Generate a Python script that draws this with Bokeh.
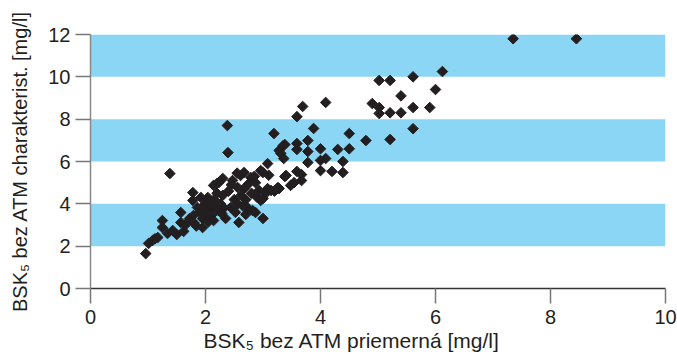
import numpy as np
from bokeh.plotting import figure
from bokeh.models import BoxAnnotation, Range1d, FixedTicker
from bokeh.embed import file_html
from bokeh.resources import INLINE

# BSK5 bez ATM priemerná [mg/l]
x_vals = [0.96, 1.01, 1.08, 1.12, 1.17, 1.25, 1.25, 1.34, 1.43, 1.38, 1.50, 1.57, 1.57, 1.62, 1.65,
          1.72, 1.78, 1.78, 1.79, 1.80, 1.84, 1.86, 1.90, 1.92, 1.95, 1.95, 1.98, 2.00, 2.02, 2.04,
          2.05, 2.05, 2.10, 2.10, 2.14, 2.14, 2.15, 2.20, 2.20, 2.23, 2.26, 2.28, 2.30, 2.32, 2.35,
          2.38, 2.39, 2.40, 2.44, 2.47, 2.50, 2.52, 2.56, 2.56, 2.58, 2.61, 2.62, 2.67, 2.67, 2.70,
          2.73, 2.75, 2.79, 2.82, 2.87, 2.87, 2.90, 2.93, 2.96, 2.96, 3.00, 3.00, 3.00, 3.08, 3.08,
          3.14, 3.19, 3.26, 3.28, 3.28, 3.31, 3.35, 3.36, 3.38, 3.38, 3.40, 3.48, 3.54, 3.59, 3.59,
          3.59, 3.59, 3.67, 3.67, 3.69, 3.78, 3.78, 3.78, 3.88, 4.00, 4.00, 4.00, 4.09, 4.09, 4.20,
          4.30, 4.39, 4.39, 4.50, 4.50, 4.79, 4.90, 5.02, 5.02, 5.02, 5.21, 5.21, 5.21, 5.40, 5.40,
          5.61, 5.61, 5.61, 5.90, 6.00, 6.12, 7.35, 8.45,
          2.20, 2.45, 2.30, 2.55, 2.70, 2.80, 2.15, 2.65, 3.05, 3.20, 3.10, 2.85]
# BSK5 bez ATM charakterist. [mg/l]
y_vals = [1.65, 2.13, 2.27, 2.35, 2.41, 2.88, 3.21, 2.60, 2.74, 5.43, 2.55, 3.12, 3.59, 2.70, 3.00,
          3.30, 4.53, 4.16, 3.45, 3.10, 2.95, 3.83, 3.60, 4.30, 2.88, 3.30, 3.95, 3.83, 3.50, 4.30,
          3.68, 3.15, 4.10, 3.45, 3.21, 4.87, 3.90, 4.96, 3.70, 5.00, 4.00, 3.55, 4.40, 3.80, 3.31,
          7.70, 6.42, 4.60, 3.83, 5.10, 4.20, 3.60, 4.77, 4.00, 3.12, 5.34, 4.40, 5.48, 4.72, 3.50,
          3.83, 4.95, 5.24, 3.68, 5.00, 3.59, 4.30, 4.63, 4.16, 5.57, 5.48, 4.25, 3.31, 5.90, 4.72,
          4.63, 7.32, 4.77, 6.52, 4.72, 6.38, 6.75, 6.14, 6.80, 5.29, 5.34, 4.87, 5.00, 8.12, 6.85,
          6.57, 5.53, 5.38, 5.10, 8.60, 6.99, 6.47, 5.95, 7.56, 6.60, 6.05, 5.57, 8.79, 6.14, 5.53,
          6.57, 6.00, 5.48, 7.32, 6.60, 6.99, 8.74, 9.83, 8.55, 8.27, 9.83, 8.30, 7.04, 9.10, 8.30,
          10.00, 8.55, 7.55, 8.55, 9.40, 10.25, 11.80, 11.80,
          4.50, 4.90, 5.20, 5.45, 4.20, 4.50, 4.20, 3.90, 4.50, 4.60, 5.35, 5.30]

band_bottoms = [2, 6, 10]
band_tops = [4, 8, 12]
x_ticks = [0, 2, 4, 6, 8, 10]
y_ticks = [0, 2, 4, 6, 8, 10, 12]
x_title = "BSK₅ bez ATM priemerná [mg/l]"
y_title = "BSK₅ bez ATM charakterist. [mg/l]"

FONT = "Liberation Sans"
TXT = "#231F20"
NB = "\u00a0"

p = figure(width=677, height=356, output_backend="svg", toolbar_location=None,
           x_range=Range1d(0, 10), y_range=Range1d(0, 12),
           min_border_left=90, min_border_right=12, min_border_top=34, min_border_bottom=68)
p.outline_line_color = None
p.background_fill_color = "white"
p.grid.visible = False

for b, t in zip(band_bottoms, band_tops):
    p.add_layout(BoxAnnotation(bottom=b, top=t, fill_color="#8CD6F5", fill_alpha=1.0,
                               line_alpha=0, level="underlay"))

p.scatter(x_vals, y_vals, marker="square", angle=np.pi / 4, size=7.5,
          fill_color=TXT, line_color=TXT)

for ax, ticks in ((p.xaxis[0], x_ticks), (p.yaxis[0], y_ticks)):
    ax.ticker = FixedTicker(ticks=ticks)
    ax.minor_tick_line_color = None
    ax.major_tick_in = 0
    ax.major_tick_out = 15
    ax.major_label_text_font = FONT
    ax.major_label_text_font_size = "20px"
    ax.major_label_text_color = TXT
    ax.major_tick_line_color = "#777777"
    ax.major_tick_line_width = 1.5
    ax.axis_label_text_font = FONT
    ax.axis_label_text_font_style = "normal"
    ax.axis_label_text_color = TXT

# trailing no-break spaces shift the centred x title left like in the original
p.xaxis.axis_label = x_title + NB * 9
p.yaxis.axis_label = y_title
p.xaxis.axis_label_text_font_size = "21px"
p.yaxis.axis_label_text_font_size = "20px"
p.xaxis.axis_line_color = "#333333"
p.xaxis.axis_line_width = 1.5
p.yaxis.axis_line_color = "#888888"
p.yaxis.axis_line_width = 1.5
p.xaxis.major_label_standoff = 6
p.yaxis.major_label_standoff = 5
p.xaxis.axis_label_standoff = 2
p.yaxis.axis_label_standoff = 14

open("out.html", "w").write(file_html(p, INLINE))
